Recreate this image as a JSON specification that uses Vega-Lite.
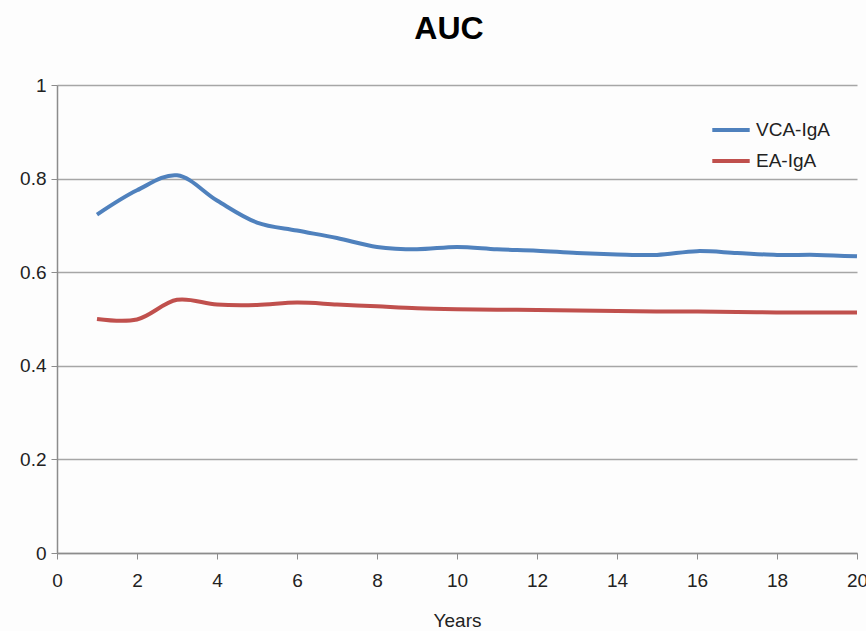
{
  "$schema": "https://vega.github.io/schema/vega-lite/v6.json",
  "width": 800,
  "height": 468,
  "autosize": {"type": "none"},
  "padding": {"left": 57, "top": 85, "right": 9, "bottom": 78},
  "background": "#fdfdfd",
  "title": {
    "text": "AUC",
    "fontSize": 32,
    "fontWeight": "bold",
    "font": "Liberation Sans",
    "color": "#000000",
    "anchor": "middle",
    "offset": 30,
    "dx": -8
  },
  "config": {
    "view": {"stroke": null},
    "font": "Liberation Sans"
  },
  "data": {
    "values": [
      {"year": 1, "series": "VCA-IgA", "auc": 0.723},
      {"year": 2, "series": "VCA-IgA", "auc": 0.775},
      {"year": 3, "series": "VCA-IgA", "auc": 0.807},
      {"year": 4, "series": "VCA-IgA", "auc": 0.753},
      {"year": 5, "series": "VCA-IgA", "auc": 0.706},
      {"year": 6, "series": "VCA-IgA", "auc": 0.689},
      {"year": 7, "series": "VCA-IgA", "auc": 0.673},
      {"year": 8, "series": "VCA-IgA", "auc": 0.654},
      {"year": 9, "series": "VCA-IgA", "auc": 0.649},
      {"year": 10, "series": "VCA-IgA", "auc": 0.654},
      {"year": 11, "series": "VCA-IgA", "auc": 0.649},
      {"year": 12, "series": "VCA-IgA", "auc": 0.646},
      {"year": 13, "series": "VCA-IgA", "auc": 0.641},
      {"year": 14, "series": "VCA-IgA", "auc": 0.638},
      {"year": 15, "series": "VCA-IgA", "auc": 0.637},
      {"year": 16, "series": "VCA-IgA", "auc": 0.645},
      {"year": 17, "series": "VCA-IgA", "auc": 0.641},
      {"year": 18, "series": "VCA-IgA", "auc": 0.637},
      {"year": 19, "series": "VCA-IgA", "auc": 0.637},
      {"year": 20, "series": "VCA-IgA", "auc": 0.634},
      {"year": 1, "series": "EA-IgA", "auc": 0.5},
      {"year": 2, "series": "EA-IgA", "auc": 0.499},
      {"year": 3, "series": "EA-IgA", "auc": 0.541},
      {"year": 4, "series": "EA-IgA", "auc": 0.531},
      {"year": 5, "series": "EA-IgA", "auc": 0.53},
      {"year": 6, "series": "EA-IgA", "auc": 0.535},
      {"year": 7, "series": "EA-IgA", "auc": 0.531},
      {"year": 8, "series": "EA-IgA", "auc": 0.527},
      {"year": 9, "series": "EA-IgA", "auc": 0.523},
      {"year": 10, "series": "EA-IgA", "auc": 0.521},
      {"year": 11, "series": "EA-IgA", "auc": 0.52},
      {"year": 12, "series": "EA-IgA", "auc": 0.519},
      {"year": 13, "series": "EA-IgA", "auc": 0.518},
      {"year": 14, "series": "EA-IgA", "auc": 0.517},
      {"year": 15, "series": "EA-IgA", "auc": 0.516},
      {"year": 16, "series": "EA-IgA", "auc": 0.516},
      {"year": 17, "series": "EA-IgA", "auc": 0.515},
      {"year": 18, "series": "EA-IgA", "auc": 0.514},
      {"year": 19, "series": "EA-IgA", "auc": 0.514},
      {"year": 20, "series": "EA-IgA", "auc": 0.514}
    ]
  },
  "mark": {"type": "line", "interpolate": "catmull-rom", "strokeWidth": 4},
  "encoding": {
    "x": {
      "field": "year",
      "type": "quantitative",
      "scale": {"domain": [0, 20], "nice": false},
      "axis": {
        "title": "Years",
        "values": [0, 2, 4, 6, 8, 10, 12, 14, 16, 18, 20],
        "grid": false,
        "domainColor": "#8c8c8c",
        "domainWidth": 1.5,
        "tickColor": "#8c8c8c",
        "tickSize": 6,
        "labelFlush": false,
        "labelFontSize": 19,
        "labelColor": "#222222",
        "labelPadding": 12,
        "titleFontSize": 19,
        "titleFontWeight": "normal",
        "titleColor": "#222222",
        "titlePadding": 21
      }
    },
    "y": {
      "field": "auc",
      "type": "quantitative",
      "scale": {"domain": [0, 1], "nice": false},
      "axis": {
        "title": null,
        "values": [0, 0.2, 0.4, 0.6, 0.8, 1],
        "format": "~g",
        "gridColor": "#a6a6a6",
        "gridWidth": 1.5,
        "domainColor": "#8c8c8c",
        "domainWidth": 1.5,
        "tickColor": "#8c8c8c",
        "tickSize": 6,
        "labelFlush": false,
        "labelFontSize": 19,
        "labelColor": "#222222",
        "labelPadding": 5
      }
    },
    "color": {
      "field": "series",
      "type": "nominal",
      "scale": {"domain": ["VCA-IgA", "EA-IgA"], "range": ["#4F81BD", "#C0504D"]},
      "legend": {
        "title": null,
        "orient": "none",
        "legendX": 653,
        "legendY": 24,
        "symbolType": "stroke",
        "symbolSize": 1400,
        "symbolStrokeWidth": 4,
        "labelFontSize": 19,
        "labelColor": "#222222",
        "labelOffset": 4,
        "rowPadding": -8
      }
    }
  }
}
